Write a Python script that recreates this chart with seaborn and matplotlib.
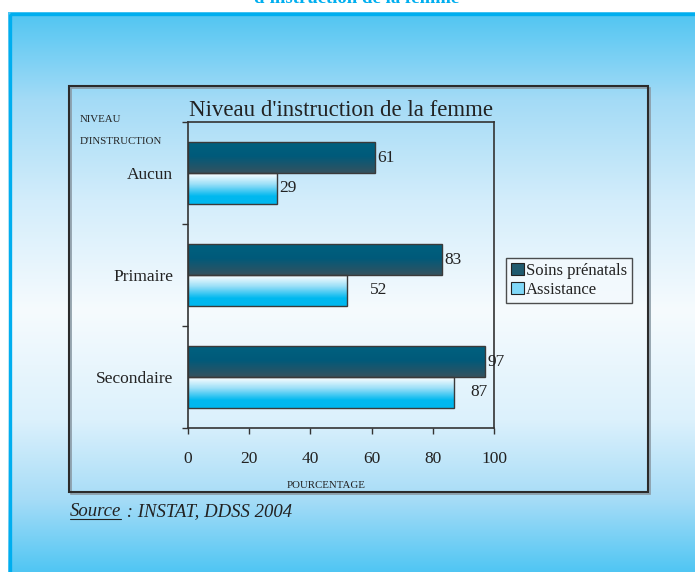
import numpy as np
import pandas as pd
import matplotlib
matplotlib.use("Agg")
import matplotlib.pyplot as plt
from matplotlib.colors import LinearSegmentedColormap, to_rgb
from matplotlib.patches import Rectangle, Patch
import seaborn as sns

# Data
categories = ["Aucun", "Primaire", "Secondaire"]
soins_prenatals = [61, 83, 97]
assistance = [29, 52, 87]
series_names = ["Soins prénatals", "Assistance"]
x_ticks = [0, 20, 40, 60, 80, 100]

# Label offsets (in percentage units) to the right of each bar end
offsets = {"Soins prénatals": [0.8, 0.8, 0.8], "Assistance": [0.8, 7.5, 5.2]}

df = pd.DataFrame({
    "niveau": categories * 2,
    "pct": soins_prenatals + assistance,
    "serie": [series_names[0]] * 3 + [series_names[1]] * 3,
})

sns.set_theme(style="white")
plt.rcParams["font.family"] = ["Liberation Serif", "DejaVu Serif"]
text_color = "#222222"

W, H = 695, 572
fig = plt.figure(figsize=(W / 100, H / 100), dpi=100)
fig.patch.set_facecolor("white")

# Page background: blue panel with vertical gradient
bg = fig.add_axes([0, 0, 1, 1], zorder=-10)
bg.set_xlim(0, W)
bg.set_ylim(H, 0)
bg.axis("off")
stops = [(12, "#50C5F2"), (100, "#A4DBF6"), (200, "#D3EDFB"), (310, "#F6FBFE"),
         (420, "#DCF1FC"), (500, "#A6DCF7"), (572, "#50C6F3")]
ys = np.arange(12, 573)
grad = np.zeros((len(ys), 1, 3))
sy = [s[0] for s in stops]
for c in range(3):
    grad[:, 0, c] = np.interp(ys, sy, [to_rgb(s[1])[c] for s in stops])
bg.imshow(grad, extent=[8, W + 5, H, 12], aspect="auto", origin="upper", zorder=0)
bg.add_patch(Rectangle((9.5, 13.5), W + 20, H + 20, fill=False,
                       edgecolor="#00AEEF", lw=2.4, zorder=1))
# Chart frame with a light shadow
bg.add_patch(Rectangle((70.5, 87.5), 579, 406, fill=False,
                       edgecolor="#8A9AA5", lw=1.2, zorder=2))
bg.add_patch(Rectangle((69, 86), 579, 406, fill=False,
                       edgecolor="#2B2B2B", lw=1.5, zorder=3))
bg.set_xlim(0, W)
bg.set_ylim(H, 0)

# Page heading, cut by the top edge of the page
fig.text(357 / W, 1 - 3 / H, "d'instruction de la femme", ha="center",
         va="baseline", color="#00AEEF", fontsize=13.5, fontweight="bold")

# Main axes
left, right, top, bottom = 188, 494, 122, 428
ax = fig.add_axes([left / W, 1 - bottom / H, (right - left) / W, (bottom - top) / H])
ax.set_facecolor("none")

sns.barplot(data=df, y="niveau", x="pct", hue="serie", orient="h",
            order=categories, hue_order=series_names, width=0.6,
            palette=["#1F5A6E", "#80D8F8"], saturation=1, ax=ax, legend=False,
            edgecolor="#3A3A3A", linewidth=1.0)

gradients = {
    "Soins prénatals": LinearSegmentedColormap.from_list(
        "dark", [(0, "#00617F"), (0.45, "#005A7A"), (1, "#34525F")]),
    "Assistance": LinearSegmentedColormap.from_list(
        "light", [(0, "#FFFFFF"), (0.35, "#9EE0F8"), (0.75, "#00B8EF"), (1, "#00B8EF")]),
}

for serie, container in zip(series_names, ax.containers):
    for i, p in enumerate(container.patches):
        x0, y0, w, h = p.get_x(), p.get_y(), p.get_width(), p.get_height()
        g = np.linspace(0, 1, 64).reshape(-1, 1)
        im = ax.imshow(g, cmap=gradients[serie], extent=[x0, x0 + w, y0 + h, y0],
                       origin="upper", aspect="auto", zorder=0.9)
        im.set_clip_path(p)
        p.set_facecolor("none")
        p.set_zorder(1)
        ax.text(w + offsets[serie][i], y0 + h / 2, f"{int(round(w))}", ha="left",
                va="center", fontsize=12.5, color=text_color, zorder=5, clip_on=False)

ax.set_xlim(0, 100)
ax.set_ylim(2.5, -0.5)
ax.set_xticks(x_ticks)
ax.set_xticklabels([str(t) for t in x_ticks])
ax.set_yticks([-0.5, 0.5, 1.5, 2.5])
ax.set_yticklabels([])
ax.set_yticks(range(len(categories)), categories, minor=True)
ax.tick_params(axis="y", which="major", direction="out", length=4, width=1,
               color="#333333", left=True)
ax.tick_params(axis="y", which="minor", length=0, pad=10.5, labelsize=12.5,
               labelcolor=text_color)
ax.tick_params(axis="x", which="major", direction="out", length=4.5, width=1,
               color="#333333", bottom=True, pad=12, labelsize=12.5,
               labelcolor=text_color)
ax.set_xlabel("")
ax.set_ylabel("")
for s in ax.spines.values():
    s.set_visible(True)
    s.set_color("#333333")
    s.set_linewidth(1.2)

ax.set_title("Niveau d'instruction de la femme", fontsize=16.5, color=text_color, pad=4)

# Axis captions
fig.text(80 / W, 1 - 120 / H, "NIVEAU", fontsize=7.8, ha="left", va="center", color=text_color)
fig.text(80 / W, 1 - 141 / H, "D'INSTRUCTION", fontsize=7.8, ha="left", va="center", color=text_color)
fig.text(326 / W, 1 - 485 / H, "POURCENTAGE", fontsize=7.8, ha="center", va="center", color=text_color)

# Legend
handles = [Patch(facecolor="#1F5A6E", edgecolor="#222222", lw=0.8),
           Patch(facecolor="#80D8F8", edgecolor="#222222", lw=0.8)]
leg = fig.legend(handles, series_names, loc="upper left",
                 bbox_to_anchor=(506 / W, 1 - 258 / H), frameon=True, fontsize=12,
                 handlelength=0.75, handleheight=0.75, handletextpad=0.15,
                 labelspacing=0.15, borderpad=0.3, fancybox=False,
                 borderaxespad=0)
leg.get_frame().set_edgecolor("#222222")
leg.get_frame().set_linewidth(1.0)
leg.get_frame().set_facecolor("#F4FAFE")
for t in leg.get_texts():
    t.set_color(text_color)

# Source line with underlined "Source"
src1 = fig.text(70 / W, 1 - 512 / H, "Source", fontsize=13.5, style="italic",
                ha="left", va="center", color=text_color)
fig.canvas.draw()
r = fig.canvas.get_renderer()
bb = src1.get_window_extent(r)
fig.text((bb.x1 + 1) / W, 1 - 512 / H, " : INSTAT, DDSS 2004", fontsize=13.5,
         style="italic", ha="left", va="center", color=text_color)
uy = (bb.y0 + 2) / H
fig.add_artist(plt.Line2D([bb.x0 / W, bb.x1 / W], [uy, uy], color=text_color, lw=0.8))

fig.savefig("out.png", dpi=100)
